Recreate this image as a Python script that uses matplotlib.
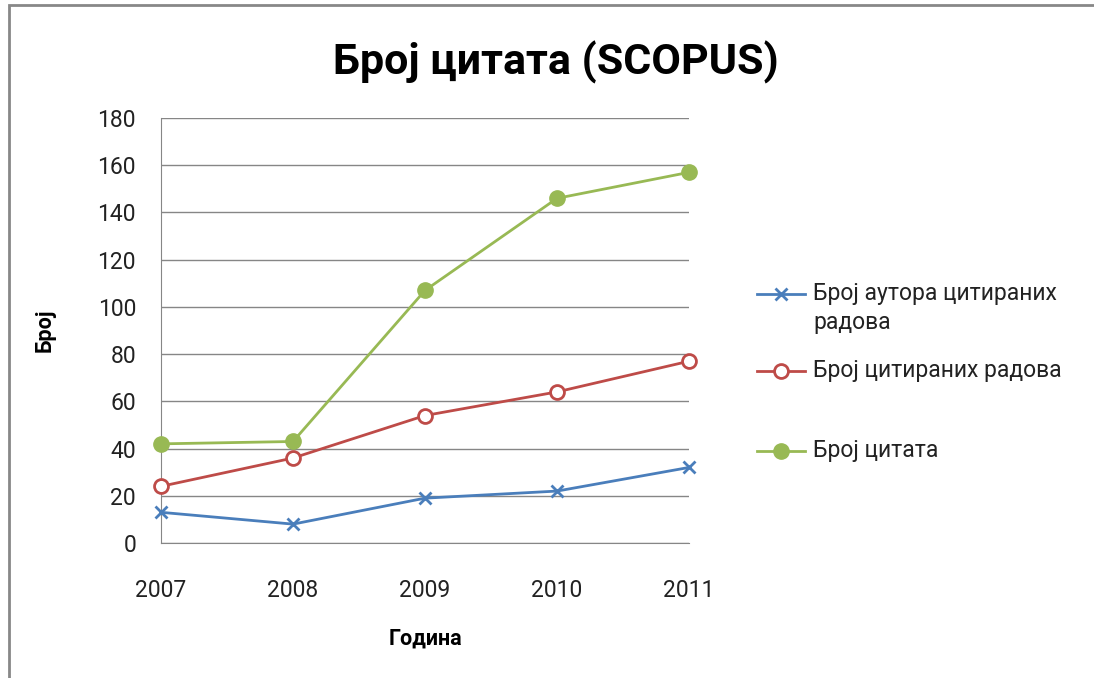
import numpy as np
import matplotlib.pyplot as plt
from matplotlib.lines import Line2D
from matplotlib.patches import Rectangle

plt.rcParams['font.family'] = ['Roboto', 'DejaVu Sans']

# data
years = ['2007', '2008', '2009', '2010', '2011']
authors = [13, 8, 19, 22, 32]      # Број аутора цитираних радова
papers = [24, 36, 54, 64, 77]      # Број цитираних радова
citations = [42, 43, 107, 146, 157]  # Број цитата

labels = ['Број аутора цитираних\nрадова', 'Број цитираних радова', 'Број цитата']
colors = ['#4A7EBB', '#BE4B48', '#98B954']

fig = plt.figure(figsize=(10.94, 6.78), dpi=100)
ax = fig.add_axes([0.1472, 0.1991, 0.4826, 0.6268])

x = np.arange(len(years))
styles = [
    dict(marker='x', ms=9, mew=2, mfc=colors[0]),
    dict(marker='o', ms=10, mew=2, mfc='white'),
    dict(marker='o', ms=11, mew=1, mfc=colors[2]),
]
series = [authors, papers, citations]
for vals, c, st in zip(series, colors, styles):
    ax.plot(x, vals, color=c, lw=2, mec=c, **st, clip_on=False, zorder=3)

ax.set_xlim(0, len(years) - 1)
ax.set_ylim(0, 180)
ax.set_yticks(range(0, 181, 20))
ax.set_xticks(x)
ax.set_xticklabels(years)
ax.grid(axis='y', color='#868686', lw=1)
ax.set_axisbelow(True)
for s in ['top', 'right']:
    ax.spines[s].set_visible(False)
for s in ['left', 'bottom']:
    ax.spines[s].set_color('#868686')
ax.tick_params(axis='y', length=0, pad=18, labelsize=16.5, colors='#222222')
ax.tick_params(axis='x', length=0, pad=26, labelsize=16.5, colors='#222222')

ax.set_xlabel('Година', fontsize=15.5, fontweight='bold', labelpad=18)
ax.set_ylabel('Број', fontsize=15.5, fontweight='bold', labelpad=30)
fig.text(0.508, 0.908, 'Број цитата (SCOPUS)', ha='center', va='center',
         fontsize=31, fontweight='bold')

# manual legend, like Excel's
leg_y = [1 - 294 / 678, 1 - 371 / 678, 1 - 451 / 678]
for lab, c, st, ly in zip(labels, colors, styles, leg_y):
    fig.add_artist(Line2D([757 / 1094, 805 / 1094], [ly, ly], color=c, lw=2))
    fig.add_artist(Line2D([781 / 1094], [ly], color=c, mec=c, **st))
    fig.text(813 / 1094, ly + 0.017, lab, ha='left', va='top', fontsize=16.5,
             color='#222222', linespacing=1.3)

# chart frame
fig.add_artist(Rectangle((9 / 1094, -0.05), 1.2, 1 - 5 / 678 + 0.05,
                         transform=fig.transFigure, fill=False,
                         edgecolor='#888888', lw=2))

fig.savefig('out.png', dpi=100)
